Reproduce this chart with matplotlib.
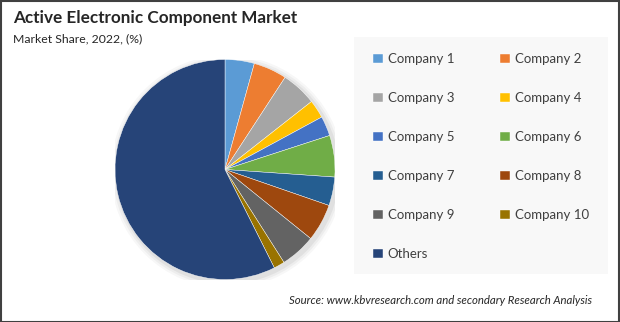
import matplotlib
matplotlib.use("Agg")
import matplotlib.pyplot as plt
from matplotlib.patches import Rectangle, Circle

labels = ["Company 1", "Company 2", "Company 3", "Company 4", "Company 5",
          "Company 6", "Company 7", "Company 8", "Company 9", "Company 10", "Others"]
shares = [4.3, 4.9, 5.2, 2.7, 2.9, 6.1, 4.2, 5.5, 5.2, 1.6, 57.4]
colors = ["#5B9BD5", "#ED7D31", "#A5A5A5", "#FFC000", "#4472C4", "#70AD47",
          "#255E91", "#9E480E", "#636363", "#997300", "#264478"]

W, H = 620, 322
fig = plt.figure(figsize=(W / 100, H / 100), dpi=100)
fig.patch.set_facecolor("white")
plt.rcParams['font.family'] = ['Lato', 'DejaVu Sans']

# border
fig.patches.append(Rectangle((0.5 / W, 0.5 / H), 1 - 1.5 / W, 1 - 1.5 / H, transform=fig.transFigure,
                             fill=False, edgecolor="#404040", linewidth=1.5))
# legend background box
fig.patches.append(Rectangle((354 / W, (H - 274) / H), 254 / W, 237 / H, transform=fig.transFigure,
                             facecolor="#F8F8F8", edgecolor="none", zorder=0))

fig.text(13 / W, 1 - 18 / H, "Active Electronic Component Market", fontsize=12.3,
         fontweight="bold", color="#262626", va="center", ha="left")
fig.text(13 / W, 1 - 39 / H, "Market Share, 2022, (%)", fontsize=8.8,
         color="#262626", va="center", ha="left")
fig.text(592 / W, 1 - 300 / H, "Source: www.kbvresearch.com and secondary Research Analysis",
         fontsize=8.2, style="italic", color="#262626", va="center", ha="right")

ax = fig.add_axes([115 / W, (H - 279.5) / H, 220 / W, 220 / H])
ax.axis("off")
# soft shadow
for r, a in [(1.06, 0.03), (1.04, 0.04), (1.02, 0.05)]:
    ax.add_patch(Circle((0.02, -0.02), r, color="black", alpha=a, lw=0, zorder=0))
wedges, _ = ax.pie(shares, colors=colors, startangle=90, counterclock=False, radius=1.0,
                   wedgeprops=dict(edgecolor="white", linewidth=0.3))
for w in wedges:
    w.set_zorder(2)
ax.set_xlim(-1.0, 1.0)
ax.set_ylim(-1.0, 1.0)
ax.set_aspect("equal")

order = [0, 2, 4, 6, 8, 10, 1, 3, 5, 7, 9]
leg = fig.legend([wedges[i] for i in order], [labels[i] for i in order], ncol=2, loc="upper left",
                 bbox_to_anchor=(373 / W, 1 - 53 / H), frameon=False,
                 fontsize=9.5, handlelength=0.75, handleheight=0.75, handletextpad=0.35,
                 columnspacing=3.5, labelspacing=2.05, borderaxespad=0, borderpad=0)
for t in leg.get_texts():
    t.set_color("#404040")

fig.savefig("out.png", dpi=100, facecolor="white")
